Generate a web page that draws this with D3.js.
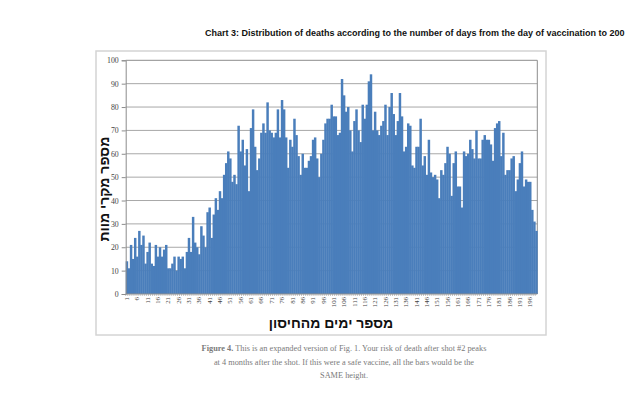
<!DOCTYPE html>
<html>
<head>
<meta charset="utf-8">
<script src="https://cdn.jsdelivr.net/npm/d3@7"></script>
<style>
  body { margin: 0; background: #fff; overflow: hidden; }
  svg { display: block; }
</style>
</head>
<body>
<div id="container"></div>
<script>
// Days since the vaccination (categories)
const days = d3.range(1, 200);

// Number of deaths per day
const deaths = [
  14, 11, 21, 15, 24, 16, 27, 21, 25, 13,
  18, 22, 13, 12, 21, 16, 20, 16, 19, 21,
  11, 11, 13, 16, 10, 16, 15, 16, 11, 18,
  24, 18, 33, 22, 20, 17, 29, 25, 20, 35,
  37, 24, 34, 41, 36, 44, 41, 51, 56, 61,
  58, 48, 51, 47, 72, 61, 66, 55, 62, 44,
  71, 79, 63, 53, 58, 69, 73, 69, 82, 70,
  69, 67, 69, 79, 67, 83, 79, 67, 54, 66,
  63, 75, 68, 59, 51, 60, 54, 54, 57, 59,
  66, 67, 58, 50, 60, 66, 73, 75, 75, 81,
  76, 76, 68, 69, 92, 85, 78, 80, 70, 61,
  74, 79, 70, 65, 81, 75, 81, 91, 94, 70,
  78, 70, 68, 72, 74, 81, 68, 80, 86, 77,
  68, 74, 86, 76, 61, 63, 73, 72, 55, 54,
  63, 63, 75, 55, 59, 51, 66, 52, 50, 51,
  49, 41, 53, 51, 56, 63, 60, 42, 56, 61,
  46, 46, 37, 61, 59, 60, 66, 62, 58, 70,
  58, 58, 66, 68, 66, 66, 64, 57, 71, 73,
  74, 59, 69, 51, 53, 53, 58, 59, 44, 49,
  56, 61, 46, 49, 48, 48, 36, 31, 27
];

// Tick labels
const xTicks = [1, 6, 11, 16, 21, 26, 31, 36, 41, 46, 51, 56, 61, 66, 71, 76, 81, 86, 91, 96,
  101, 106, 111, 116, 121, 126, 131, 136, 141, 146, 151, 156, 161, 166, 171, 176, 181, 186, 191, 196];
const yTicks = [0, 10, 20, 30, 40, 50, 60, 70, 80, 90, 100];

const title = "Chart 3: Distribution of deaths according to the number of days from the day of vaccination to 200";
const yLabel = "מספר מקרי מוות";
const xLabel = "מספר ימים מהחיסון";
const captionLines = [
  ["Figure 4.", " This is an expanded version of Fig. 1. Your risk of death after shot #2 peaks"],
  ["", "at 4 months after the shot. If this were a safe vaccine, all the bars would be the"],
  ["", "SAME height."]
];

//Create dimensions
const width = 632;
const height = 399;
const plot = { left: 125.7, right: 537.3, top: 60.3, bottom: 294 };

const svg = d3.select("#container")
  .append("svg")
  .attr("width", width)
  .attr("height", height);

//Title
svg.append("text")
  .attr("x", 205)
  .attr("y", 36)
  .style("font-family", "'Liberation Sans', Arial, sans-serif")
  .style("font-weight", "bold")
  .style("font-size", "9px")
  .attr("fill", "#111")
  .text(title);

//Chart area border
svg.append("rect")
  .attr("x", 96)
  .attr("y", 51)
  .attr("width", 450)
  .attr("height", 284)
  .attr("fill", "none")
  .attr("stroke", "#d4d4d4")
  .attr("stroke-width", 1.5);

//Scales
const x = d3.scaleBand()
  .domain(days)
  .range([plot.left, plot.right])
  .padding(0);

const y = d3.scaleLinear()
  .domain([0, 100])
  .range([plot.bottom, plot.top]);

//Gridlines
svg.append("g")
  .selectAll("line")
  .data(yTicks.filter(d => d > 0))
  .join("line")
    .attr("x1", plot.left)
    .attr("x2", plot.right)
    .attr("y1", d => y(d))
    .attr("y2", d => y(d))
    .attr("stroke", d => d === 100 ? "#8c8c8c" : "#a8a8a8")
    .attr("stroke-width", 1);

//Plot area right border
svg.append("line")
  .attr("x1", plot.right).attr("x2", plot.right)
  .attr("y1", plot.top).attr("y2", plot.bottom)
  .attr("stroke", "#8c8c8c");

//Bars
svg.append("g")
  .selectAll("rect")
  .data(deaths)
  .join("rect")
    .attr("x", (d, i) => x(days[i]))
    .attr("y", d => y(d))
    .attr("width", x.bandwidth() + 0.4)
    .attr("height", d => y(0) - y(d))
    .attr("fill", "#4a7ebb");

//Y axis
const yAxis = svg.append("g")
  .attr("transform", `translate(${plot.left},0)`)
  .call(d3.axisLeft(y).tickValues(yTicks).tickSize(4).tickPadding(3));
yAxis.select(".domain").attr("stroke", "#8c8c8c");
yAxis.selectAll(".tick line").attr("stroke", "#8c8c8c");
yAxis.selectAll(".tick text")
  .style("font-family", "'Liberation Serif', serif")
  .style("font-size", "7.8px")
  .attr("fill", "#444");

//X axis: small tick at every bar edge
svg.append("line")
  .attr("x1", plot.left).attr("x2", plot.right)
  .attr("y1", plot.bottom).attr("y2", plot.bottom)
  .attr("stroke", "#8c8c8c");
svg.append("g")
  .selectAll("line")
  .data(days)
  .join("line")
    .attr("x1", d => x(d))
    .attr("x2", d => x(d))
    .attr("y1", plot.bottom)
    .attr("y2", plot.bottom + 2)
    .attr("stroke", "#9a9a9a")
    .attr("stroke-width", 0.6);

svg.append("g")
  .selectAll("text")
  .data(xTicks)
  .join("text")
    .attr("transform", d => `translate(${x(d) + x.bandwidth() / 2 + 2.3},${plot.bottom + 3}) rotate(-90)`)
    .attr("text-anchor", "end")
    .style("font-family", "'Liberation Serif', serif")
    .style("font-size", "6.8px")
    .attr("fill", "#444")
    .text(d => d);

//Axis titles
svg.append("text")
  .attr("transform", `translate(109,${(plot.top + plot.bottom) / 2 + 12}) rotate(-90)`)
  .attr("text-anchor", "middle")
  .style("font-family", "'Liberation Sans', Arial, sans-serif")
  .style("font-weight", "bold")
  .style("font-size", "14px")
  .attr("fill", "#111")
  .text(yLabel);

svg.append("text")
  .attr("x", 331)
  .attr("y", 328)
  .attr("text-anchor", "middle")
  .style("font-family", "'Liberation Sans', Arial, sans-serif")
  .style("font-weight", "bold")
  .style("font-size", "14px")
  .attr("fill", "#111")
  .text(xLabel);

//Caption
const caption = svg.append("g")
  .style("font-family", "'Liberation Serif', serif")
  .style("font-size", "8.3px")
  .attr("fill", "#7a7a7a");

captionLines.forEach((line, i) => {
  const t = caption.append("text")
    .attr("x", 344)
    .attr("y", 351 + i * 13.5)
    .attr("text-anchor", "middle");
  if (line[0]) t.append("tspan").style("font-weight", "bold").text(line[0]);
  t.append("tspan").text(line[1]);
});
</script>
</body>
</html>
